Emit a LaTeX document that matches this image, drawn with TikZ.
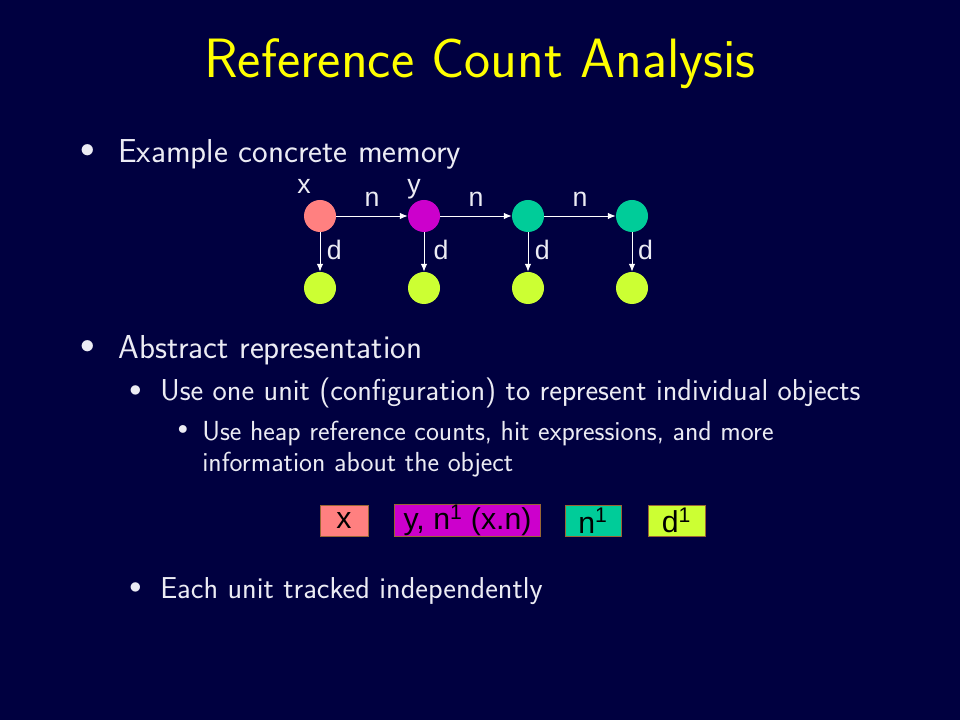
\documentclass[tikz,border=0pt]{standalone}
\usepackage{fontspec}
\newfontfamily\arial{Liberation Sans}
\usepackage{tikz}
\usetikzlibrary{arrows.meta, positioning}
\definecolor{slideNavy}{RGB}{0, 0, 64}
\definecolor{slideYellow}{RGB}{255, 255, 0}
\definecolor{slideText}{RGB}{236, 236, 244}
\definecolor{cellSalmon}{RGB}{255, 128, 128}
\definecolor{cellMagenta}{RGB}{204, 0, 204}
\definecolor{cellTeal}{RGB}{0, 204, 153}
\definecolor{cellLime}{RGB}{204, 255, 51}
\definecolor{cellEdge}{RGB}{153, 102, 51}

\begin{document}
\begin{tikzpicture}[x=0.025cm, y=-0.025cm,
			obj/.style={circle, minimum size=0.8cm, inner sep=0pt},
			lbl/.style={font=\arial\fontsize{19}{19}\selectfont, slideText, inner sep=0pt},
			ptr/.style={white, line width=0.7pt, -{Latex[length=5.5pt, width=4.5pt]}},
			unit/.style={draw=cellEdge, line width=0.7pt, minimum height=0.775cm, inner sep=0pt,
				font=\arial\fontsize{21.5}{21.5}\selectfont, text=black},
			txt/.style={anchor=base west, inner sep=0pt, slideText},
			dot/.style={anchor=center, inner sep=0pt, slideText, font=\fontsize{#1}{#1}\selectfont},
			lvlA/.style={txt, font=\sffamily\fontsize{23.6}{23.6}\selectfont},
			lvlB/.style={txt, font=\sffamily\fontsize{21.5}{21.5}\selectfont},
			lvlC/.style={txt, font=\sffamily\fontsize{19.6}{19.6}\selectfont}
		]

	\fill[slideNavy] (0,0) rectangle (960,720);
	\useasboundingbox (0,0) rectangle (960,720);

	\node[anchor=base, inner sep=0pt, slideYellow, font=\sffamily\fontsize{39.4}{39.4}\selectfont] (title) at (480,78) {Reference Count Analysis};

	\node[dot=20] (b1) at (88,151) {$\bullet$};
	\node[lvlA] (t1) at (118,163) {Example concrete memory};

	% concrete memory
	\node[obj, fill=cellSalmon] (X) at (320,216) {};
	\node[obj, fill=cellMagenta] (Y) at (424,216) {};
	\node[obj, fill=cellTeal] (N3) at (528,216) {};
	\node[obj, fill=cellTeal] (N4) at (632,216) {};

	\node[obj, fill=cellLime] (D1) at (320,288) {};
	\node[obj, fill=cellLime] (D2) at (424,288) {};
	\node[obj, fill=cellLime] (D3) at (528,288) {};
	\node[obj, fill=cellLime] (D4) at (632,288) {};

	\draw[ptr] (X) -- (Y) node[lbl, midway, above=6.2pt] {n};
	\draw[ptr] (Y) -- (N3) node[lbl, midway, above=6.2pt] {n};
	\draw[ptr] (N3) -- (N4) node[lbl, midway, above=6.2pt] {n};

	\draw[ptr] (X) -- (D1) node[lbl, pos=0.45, right=4.5pt] {d};
	\draw[ptr] (Y) -- (D2) node[lbl, pos=0.45, right=6.5pt] {d};
	\draw[ptr] (N3) -- (D3) node[lbl, pos=0.45, right=4.5pt] {d};
	\draw[ptr] (N4) -- (D4) node[lbl, pos=0.45, right=4pt] {d};

	\node[lbl, anchor=base] (xname) at (304,194) {x};
	\node[lbl, anchor=base] (yname) at (414,194) {y};

	\node[dot=20] (b2) at (88,347) {$\bullet$};
	\node[lvlA] (t2) at (118,359) {Abstract representation};

	\node[dot=17] (b3) at (135.5,391) {$\bullet$};
	\node[lvlB] (t3) at (160,401) {Use one unit (configuration) to represent individual objects};

	\node[dot=15] (b4) at (183,430) {$\bullet$};
	\node[lvlC] (t4) at (202,441) {Use heap reference counts, hit expressions, and more};
	\node[lvlC] (t5) at (202,472) {information about the object};

	% abstract units
	\node[unit, fill=cellSalmon, minimum width=1.2cm] (uX) at (344,520.5) {x};
	\node[unit, fill=cellMagenta, minimum width=3.625cm] (uY) at (467.5,520.5) {y, n\textsuperscript{1} (x.n)};
	\node[unit, fill=cellTeal, minimum width=1.4cm] (uN) at (593,520.5) {n\textsuperscript{1}};
	\node[unit, fill=cellLime, minimum width=1.425cm] (uD) at (676.5,520.5) {d\textsuperscript{1}};

	\node[dot=17] (b5) at (135.5,588) {$\bullet$};
	\node[lvlB] (t6) at (160,598) {Each unit tracked independently};

\end{tikzpicture}
\end{document}
